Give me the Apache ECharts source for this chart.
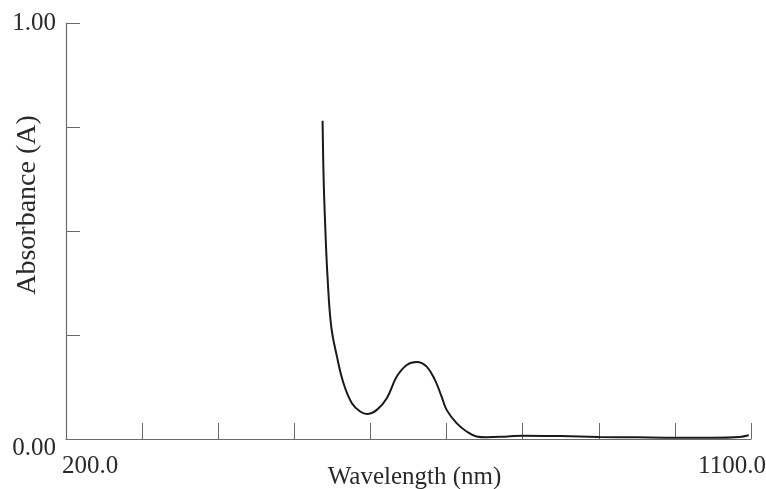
<!DOCTYPE html>
<html>
<head>
<meta charset="utf-8">
<script src="https://cdn.jsdelivr.net/npm/echarts@6/dist/echarts.min.js"></script>
<style>
  html, body { margin: 0; padding: 0; background: #fff; }
  #chart { width: 766px; height: 489px; }
</style>
</head>
<body>
<div id="chart"></div>
<script>
// spectrum
const wavelength = [537.1, 538.4, 540.6, 543.6, 548.5, 556, 564.6, 575.6, 586.5, 595.3,
  608.4, 621.5, 634.6, 647.7, 660.8, 673.9, 684.7, 693.5, 700.1, 713.2,
  726.3, 739.4, 752.5, 780, 800, 850, 900, 950, 1000, 1050, 1085, 1097]
const absorbance = [0.765, 0.632, 0.511, 0.390, 0.270, 0.198, 0.134, 0.086, 0.066, 0.060,
  0.070, 0.098, 0.150, 0.178, 0.185, 0.174, 0.142, 0.102, 0.070, 0.038,
  0.018, 0.006, 0.004, 0.006, 0.008, 0.007, 0.005, 0.004, 0.003, 0.003, 0.005, 0.009]

const xMin = 200, xMax = 1100, xStep = 100
const yMin = 0, yMax = 1, yStep = 0.25
const xTitle = 'Wavelength (nm)'
const yTitle = 'Absorbance (A)'

const font = '"Liberation Serif", "Times New Roman", serif'
const axisColor = '#6b6b6b'
const textColor = '#2a2a2a'

const chart = echarts.init(document.getElementById('chart'))

const option = {
  animation: false,
  backgroundColor: '#fff',
  textStyle: { fontFamily: font },
  grid: { left: 66, right: 15, top: 23, bottom: 50, containLabel: false, outerBoundsMode: 'none' },
  xAxis: {
    type: 'value',
    min: xMin, max: xMax, interval: xStep,
    name: xTitle,
    nameLocation: 'middle',
    nameGap: 26,
    nameMoveOverlap: false,
    nameTextStyle: { fontFamily: font, fontSize: 25, color: textColor, padding: [0, 0, 0, 12] },
    splitLine: { show: false },
    axisLine: { lineStyle: { color: axisColor, width: 1.2 } },
    axisTick: { inside: true, length: 16, lineStyle: { color: axisColor, width: 1 } },
    axisLabel: {
      interval: 0,
      margin: 15,
      fontFamily: font, fontSize: 25, color: textColor,
      formatter: v => v === xMin ? '{lo|200.0}' : v === xMax ? '{hi|1100.0}' : '',
      rich: {
        lo: { fontFamily: font, fontSize: 25, color: textColor, padding: [0, 0, 0, 48] },
        hi: { fontFamily: font, fontSize: 25, color: textColor, padding: [0, 38, 0, 0] }
      }
    }
  },
  yAxis: {
    type: 'value',
    min: yMin, max: yMax, interval: yStep,
    name: yTitle,
    nameLocation: 'middle',
    nameGap: 24,
    nameMoveOverlap: false,
    nameTextStyle: { fontFamily: font, fontSize: 28, color: textColor, padding: [0, 0, 0, 52] },
    splitLine: { show: false },
    axisLine: { show: true, lineStyle: { color: axisColor, width: 1.2 } },
    axisTick: { show: true, inside: true, length: 14, lineStyle: { color: axisColor, width: 1 } },
    axisLabel: {
      margin: 10,
      fontFamily: font, fontSize: 25, color: textColor,
      formatter: v => v === yMax ? '1.00' : v === yMin ? '{lo|0.00}' : '',
      rich: {
        lo: { fontFamily: font, fontSize: 25, color: textColor, padding: [18, 0, 0, 0] }
      }
    }
  },
  series: [{
    type: 'line',
    data: wavelength.map((w, i) => [w, absorbance[i]]),
    smooth: 0.4,
    showSymbol: false,
    lineStyle: { color: '#1a1a1a', width: 2 }
  }]
}

chart.setOption(option)
</script>
</body>
</html>
